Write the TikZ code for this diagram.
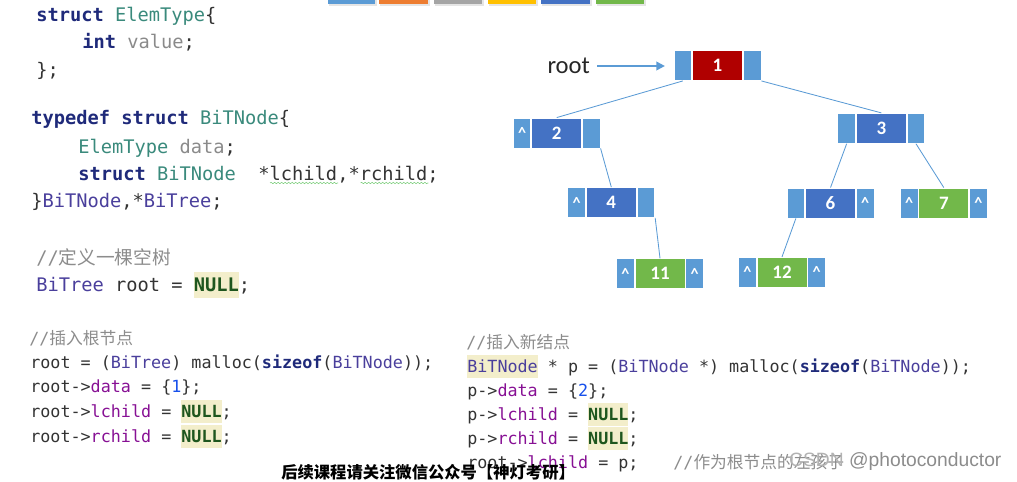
\documentclass[tikz,border=0pt]{standalone}
\usepackage{fontspec}
\setmonofont{DejaVu Sans Mono}
\newfontfamily\cjk{Noto Sans CJK SC}
\newfontfamily\treefont{Carlito}
\newfontfamily\wmfont{Liberation Sans}
\usetikzlibrary{arrows.meta, positioning, decorations.pathmorphing}

\definecolor{kwc}{HTML}{1F2A7A}
\definecolor{snc}{HTML}{3A8A7C}
\definecolor{tdc}{HTML}{4A3F9C}
\definecolor{fldc}{HTML}{871094}
\definecolor{nulc}{HTML}{1E561E}
\definecolor{hlc}{HTML}{F3EECB}
\definecolor{numc}{HTML}{1750EB}
\definecolor{cmtc}{HTML}{8C8C8C}
\definecolor{codec}{HTML}{333333}
\definecolor{unusedc}{HTML}{8A8A8A}
\definecolor{ptrblue}{HTML}{5B9BD5}
\definecolor{redbox}{HTML}{B00000}
\definecolor{bluebox}{HTML}{4472C4}
\definecolor{greenbox}{HTML}{72B84A}
\definecolor{barorange}{HTML}{ED7D31}
\definecolor{bargray}{HTML}{A5A5A5}
\definecolor{baryellow}{HTML}{FFC000}

\newcommand{\kw}[1]{\textcolor{kwc}{\bfseries #1}}
\newcommand{\sname}[1]{\textcolor{snc}{#1}}
\newcommand{\tname}[1]{\textcolor{tdc}{#1}}
\newcommand{\fld}[1]{\textcolor{fldc}{#1}}
\newcommand{\cnum}[1]{\textcolor{numc}{#1}}
\newcommand{\cmt}[1]{\textcolor{cmtc}{#1}}
\newcommand{\hlbox}[1]{{\setlength{\fboxsep}{0pt}\colorbox{hlc}{\rule[-0.37em]{0pt}{1.41em}#1}}}
\newcommand{\cnull}{\hlbox{\textcolor{nulc}{\bfseries NULL}}}
\newcommand{\nullp}{\textasciicircum}

\begin{document}
\begin{tikzpicture}[x=0.025cm, y=-0.025cm,
  codeA/.style={anchor=base west, inner sep=0pt, text=codec, font=\ttfamily\fontsize{13.3}{16}\selectfont},
  codeB/.style={anchor=base west, inner sep=0pt, text=codec, font=\ttfamily\fontsize{11.9}{14}\selectfont},
  ptr/.style={draw=white, line width=0.6pt, fill=ptrblue, minimum width=0.44cm, minimum height=0.75cm,
    inner sep=0pt, text=white, font=\treefont\bfseries\fontsize{11.5}{12}\selectfont},
  dat/.style={ptr, fill=#1, minimum width=1.25cm, font=\treefont\bfseries\fontsize{13.5}{15}\selectfont},
  edgeline/.style={ptrblue, line width=0.6pt},
  rootptr/.style={ptrblue, line width=1.4pt, -{Triangle[length=6pt, width=6pt]}, shorten <=5pt, shorten >=6.2pt},
  squiggle/.style={draw=green!45!gray!70, line width=0.4pt, decorate, decoration={snake, amplitude=0.5pt, segment length=2.5pt}}]
  \useasboundingbox (0,0) rectangle (1017,481);
  % cut-off colour bars at the top
  \fill[black!10] (329,-4) rectangle (377,6); \fill[ptrblue] (328,-5) rectangle (375,4);
  \fill[black!10] (380,-4) rectangle (430,6); \fill[barorange] (379,-5) rectangle (428,4);
  \fill[black!10] (435,-4) rectangle (484,6); \fill[bargray] (434,-5) rectangle (482,4);
  \fill[black!10] (489,-4) rectangle (538,6); \fill[baryellow] (488,-5) rectangle (536,4);
  \fill[black!10] (542,-4) rectangle (592,6); \fill[bluebox] (541,-5) rectangle (590,4);
  \fill[black!10] (597,-4) rectangle (646,6); \fill[greenbox] (596,-5) rectangle (644,4);
  % type definitions
  \node[codeA] (def1) at (36,21.5) {\kw{struct} \sname{ElemType}\{};
  \node[codeA] (def2) at (82,48.5) {\kw{int} \textcolor{unusedc}{value};};
  \node[codeA] (def3) at (36,76.5) {\};};
  \node[codeA] (def4) at (31,124.5) {\kw{typedef} \kw{struct} \sname{BiTNode}\{};
  \node[codeA] (def5) at (78,153) {\sname{ElemType} \textcolor{unusedc}{data};};
  \node[codeA] (def6) at (78,180) {\kw{struct} \sname{BiTNode}\ \ *lchild,*rchild;};
  \node[codeA] (def7) at (31,207.5) {\}\tname{BiTNode},*\tname{BiTree};};
  \draw[squiggle] (270,183) -- (338,183);
  \draw[squiggle] (360.5,183) -- (428.3,183);
  % empty tree
  \node[codeA] (cm1) at (36,264.5) {\cmt{//{\cjk 定义一棵空树}}};
  \node[codeA] (emp) at (36,291.5) {\tname{BiTree} root = \cnull;};
  % insert the root
  \node[codeB] (cm2) at (29,344) {\cmt{//{\cjk 插入根节点}}};
  \node[codeB] (ins1) at (30,368) {root = (\tname{BiTree}) malloc(\kw{sizeof}(\tname{BiTNode}));};
  \node[codeB] (ins2) at (30,392) {root->\fld{data} = \{\cnum{1}\};};
  \node[codeB] (ins3) at (30,417) {root->\fld{lchild} = \cnull;};
  \node[codeB] (ins4) at (30,442) {root->\fld{rchild} = \cnull;};
  % insert a new node
  \node[codeB] (cm3) at (466,348) {\cmt{//{\cjk 插入新结点}}};
  \node[codeB] (new1) at (467,372) {\hlbox{\tname{BiTNode}} * p = (\tname{BiTNode} *) malloc(\kw{sizeof}(\tname{BiTNode}));};
  \node[codeB] (new2) at (467,396) {p->\fld{data} = \{\cnum{2}\};};
  \node[codeB] (new3) at (467,420) {p->\fld{lchild} = \cnull;};
  \node[codeB] (new4) at (467,444) {p->\fld{rchild} = \cnull;};
  \node[codeB] (new5) at (467,468) {root->\fld{lchild} = p;\hspace{2.08em}\cmt{//{\cjk 作为根节点的左孩子}}};
  % the tree
  \node[dat=redbox] (root) at (717.5,65.5) {1};
  \node[ptr, left=0pt of root] (root-l) {}; \node[ptr, right=0pt of root] (root-r) {};
  \node[dat=bluebox] (n2) at (556.7,133) {2};
  \node[ptr, left=0pt of n2] (n2-l) {\nullp}; \node[ptr, right=0pt of n2] (n2-r) {};
  \node[dat=bluebox] (n3) at (881.3,128.3) {3};
  \node[ptr, left=0pt of n3] (n3-l) {}; \node[ptr, right=0pt of n3] (n3-r) {};
  \node[dat=bluebox] (n4) at (611.3,202.5) {4};
  \node[ptr, left=0pt of n4] (n4-l) {\nullp}; \node[ptr, right=0pt of n4] (n4-r) {};
  \node[dat=bluebox] (n6) at (830.5,203) {6};
  \node[ptr, left=0pt of n6] (n6-l) {}; \node[ptr, right=0pt of n6] (n6-r) {\nullp};
  \node[dat=greenbox] (n7) at (943.8,203) {7};
  \node[ptr, left=0pt of n7] (n7-l) {\nullp}; \node[ptr, right=0pt of n7] (n7-r) {\nullp};
  \node[dat=greenbox] (n11) at (660,273.7) {11};
  \node[ptr, left=0pt of n11] (n11-l) {\nullp}; \node[ptr, right=0pt of n11] (n11-r) {\nullp};
  \node[dat=greenbox] (n12) at (782,272.3) {12};
  \node[ptr, left=0pt of n12] (n12-l) {\nullp}; \node[ptr, right=0pt of n12] (n12-r) {\nullp};
  \draw[edgeline] (root-l.south) -- (n2.north);
  \draw[edgeline] (root-r.south east) -- (n3.north);
  \draw[edgeline] (n2-r.south east) -- (n4.north);
  \draw[edgeline] (n3-l.south) -- (n6.north);
  \draw[edgeline] (n3-r.south) -- (n7.north);
  \draw[edgeline] (n4-r.south east) -- (n11.north);
  \draw[edgeline] (n6-l.south) -- (n12.north);
  % root pointer
  \node[inner sep=0pt, text=black!85, font=\treefont\fontsize{17.5}{20}\selectfont] (rootlbl) at (568.7,66) {root};
  \draw[rootptr] (rootlbl.east) -- (rootlbl.east -| root-l.west);
  % footer and watermark
  \node[anchor=base west, inner sep=0pt, font=\cjk\bfseries\fontsize{11.6}{13}\selectfont] (promo) at (281,478) {后续课程请关注微信公众号【神灯考研】};
  \node[anchor=base east, inner sep=0pt, text=black!45, font=\wmfont\fontsize{13.7}{16}\selectfont] (mark) at (1001.7,466.7) {\textcolor{black!30}{CSDN} @photoconductor};
\end{tikzpicture}
\end{document}
